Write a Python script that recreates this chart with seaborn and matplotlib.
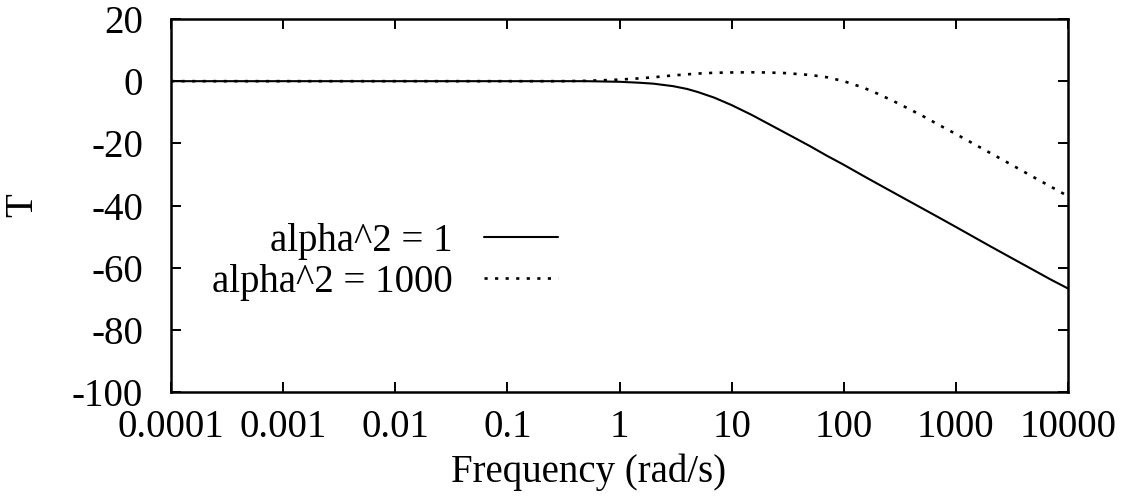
import numpy as np
import pandas as pd
import matplotlib
matplotlib.use("Agg")
import matplotlib.pyplot as plt
from matplotlib.ticker import FixedLocator, LogLocator, NullFormatter, NullLocator
import seaborn as sns

# Frequency response of T for two values of alpha^2
freq = [1e-4, 1e-3, 1e-2, 0.1, 0.3, 0.5, 1, 1.5, 2, 3, 4, 5, 7, 10, 15, 20, 30,
        50, 70, 100, 150, 200, 300, 500, 700, 1000, 2000, 3000, 5000, 7000, 10000]
t_alpha1 = [0, 0, 0, 0, 0, 0, -0.2, -0.5, -0.8, -1.6, -2.5, -3.5, -5.3, -7.7,
            -10.8, -13.2, -16.6, -20.9, -23.9, -26.9, -30.5, -33.0, -36.5, -40.9,
            -43.8, -46.9, -53.0, -56.5, -60.9, -63.8, -66.7]
t_alpha1000 = [0, 0, 0, 0, 0, 0.1, 0.5, 0.9, 1.25, 1.85, 2.2, 2.45, 2.7, 2.8,
               2.85, 2.8, 2.6, 2.0, 1.3, 0.0, -2.1, -4.0, -7.0, -11.1, -14.0,
               -17.0, -23.0, -26.5, -31.0, -33.9, -37.0]
series_labels = ["alpha^2 = 1", "alpha^2 = 1000"]

x_ticks = [1e-4, 1e-3, 1e-2, 1e-1, 1, 10, 100, 1000, 10000]
x_tick_labels = ["0.0001", "0.001", "0.01", "0.1", "1", "10", "100", "1000", "10000"]
y_ticks = [-100, -80, -60, -40, -20, 0, 20]

sns.set_theme(style="ticks")
plt.rcParams["font.family"] = ["Liberation Serif", "DejaVu Serif"]
plt.rcParams["font.size"] = 28
plt.rcParams["text.color"] = "black"
plt.rcParams["axes.labelcolor"] = "black"
plt.rcParams["xtick.color"] = "black"
plt.rcParams["ytick.color"] = "black"

fig = plt.figure(figsize=(11.3, 4.96), dpi=100)
ax = fig.add_axes([171 / 1130, 1 - 392 / 496, 897 / 1130, 373 / 496])

sns.lineplot(x=freq, y=t_alpha1, ax=ax, color="black", linewidth=1.5,
             label=series_labels[0])
sns.lineplot(x=freq, y=t_alpha1000, ax=ax, color="black", linewidth=1.9,
             linestyle=(0, (1.2, 2.8)), label=series_labels[1])

ax.set_xscale("log")
ax.set_xlim(1e-4, 1e4)
ax.set_ylim(-100, 20)

ax.xaxis.set_major_locator(FixedLocator(x_ticks))
ax.set_xticklabels(x_tick_labels)
ax.xaxis.set_minor_locator(LogLocator(base=10, subs=[2, 5, 8]))
ax.xaxis.set_minor_formatter(NullFormatter())
ax.set_yticks(y_ticks)
ax.set_yticklabels([str(v) for v in y_ticks])
ax.yaxis.set_minor_locator(NullLocator())

ax.tick_params(axis="both", which="major", direction="in", length=7.5, width=1.4,
               top=True, right=True, colors="black", labelsize=28)
ax.tick_params(axis="both", which="minor", direction="in", length=3.8, width=1.2,
               top=True, right=True, colors="black")
ax.tick_params(axis="x", which="major", pad=12)
ax.tick_params(axis="y", which="major", pad=20)

for sp in ax.spines.values():
    sp.set_visible(True)
    sp.set_linewidth(1.8)
    sp.set_color("black")

ax.set_xlabel("Frequency (rad/s)", fontsize=28, color="black")
ax.set_ylabel("T", fontsize=28, color="black")
ax.xaxis.set_label_coords(0.466, -0.165)
ax.yaxis.set_label_coords(-0.145, 0.5)

leg = ax.legend(markerfirst=False, frameon=False, loc="center right",
                bbox_to_anchor=(0.431, 0.349), handlelength=1.88, handletextpad=0.82,
                labelspacing=0.1, borderpad=0, borderaxespad=0, fontsize=28)
for txt in leg.get_texts():
    txt.set_color("black")

fig.savefig("out.png", dpi=100, facecolor="white")
